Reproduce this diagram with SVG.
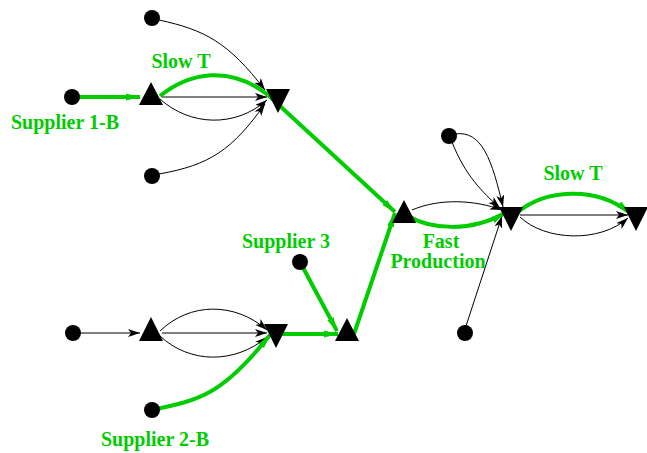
<svg xmlns="http://www.w3.org/2000/svg" width="647" height="453" viewBox="0 0 647 453">
<style>
.e{fill:none;stroke:#000;stroke-width:1}
.g{fill:none;stroke:#00cc00;stroke-width:4}
.n{fill:#000}
.t{font-family:"Liberation Serif",serif;font-weight:bold;font-size:20px;fill:#00cc00}
</style>
<defs>
<marker id="a" markerUnits="userSpaceOnUse" markerWidth="14" markerHeight="10" refX="12" refY="4" orient="auto">
<path d="M0,0 L12,4 L0,8 L3,4 z" fill="#000"/>
</marker>
<marker id="ga" markerUnits="userSpaceOnUse" markerWidth="16" markerHeight="10" refX="14" refY="4" orient="auto">
<path d="M0,0.5 L14,4 L0,7.5 z" fill="#00cc00"/>
</marker>
</defs>
<g id="connectors">
<path class="e" d="M162,97 L267,97" marker-end="url(#a)"/>
<path class="e" d="M160,99 C190,126 235,128 267,100" marker-end="url(#a)"/>
<path class="e" d="M159,20 C205,30 228,42 265,90" marker-end="url(#a)"/>
<path class="e" d="M159,174 C210,165 232,150 265,104" marker-end="url(#a)"/>
<path class="e" d="M412,210 C440,198 475,200 502,210" marker-end="url(#a)"/>
<path class="e" d="M455,134 C482,130 492,160 503,207" marker-end="url(#a)"/>
<path class="e" d="M452,142 C465,175 482,192 500,208" marker-end="url(#a)"/>
<path class="e" d="M466,326 L502,216" marker-end="url(#a)"/>
<path class="e" d="M520,215 L628,215" marker-end="url(#a)"/>
<path class="e" d="M520,217 C545,241 600,243 628,218" marker-end="url(#a)"/>
<path class="e" d="M80,333 L140,333" marker-end="url(#a)"/>
<path class="e" d="M162,333 L267,333" marker-end="url(#a)"/>
<path class="e" d="M160,331 C190,302 235,302 267,330" marker-end="url(#a)"/>
<path class="e" d="M160,336 C190,364 235,364 267,337" marker-end="url(#a)"/>
<path class="g" d="M72,97 L140,97" marker-end="url(#ga)"/>
<path class="g" d="M160,96 C190,72 230,65 268,95"/>
<path class="g" d="M268,95 L395,212" marker-end="url(#ga)"/>
<path class="g" d="M300,262 L337,331" marker-end="url(#ga)"/>
<path class="g" d="M282,334 L338,334" marker-end="url(#ga)"/>
<path class="g" d="M354,334 L395,213" marker-end="url(#ga)"/>
<path class="g" d="M408,216 C430,229 470,233 505,213" marker-end="url(#ga)"/>
<path class="g" d="M518,212 C545,190 595,185 630,213" marker-end="url(#ga)"/>
<path class="g" d="M152,410 C200,400 222,395 270,335" marker-end="url(#ga)"/>
</g>
<g id="s1a"><circle class="n" cx="152" cy="18" r="8"/></g>
<g id="s1b"><circle class="n" cx="72" cy="97" r="8"/></g>
<g id="s1c"><circle class="n" cx="152" cy="176" r="8"/></g>
<g id="t1"><polygon class="n" points="151,82 163,105 139,105"/></g>
<g id="v1"><polygon class="n" points="266,89 290,89 278,113"/></g>
<g id="t2"><polygon class="n" points="404,200 416,223 392,223"/></g>
<g id="c1"><circle class="n" cx="449" cy="136" r="8"/></g>
<g id="c2"><circle class="n" cx="465" cy="333" r="8"/></g>
<g id="v2"><polygon class="n" points="499,207 523,207 511,231"/></g>
<g id="v3"><polygon class="n" points="624,207 648,207 636,231"/></g>
<g id="d1"><circle class="n" cx="73" cy="333" r="8"/></g>
<g id="t3"><polygon class="n" points="151,317 163,341 139,341"/></g>
<g id="v4"><polygon class="n" points="264,324 288,324 276,348"/></g>
<g id="t4"><polygon class="n" points="347,318 359,341 335,341"/></g>
<g id="s3"><circle class="n" cx="300" cy="262" r="8"/></g>
<g id="s2b"><circle class="n" cx="152" cy="410" r="8"/></g>
<g id="labels">
<text class="t" x="181" y="68" text-anchor="middle">Slow T</text>
<text class="t" x="65" y="129" text-anchor="middle">Supplier 1-B</text>
<text class="t" x="573" y="180" text-anchor="middle">Slow T</text>
<text class="t" x="441" y="248" text-anchor="middle">Fast</text>
<text class="t" x="438" y="268" text-anchor="middle">Production</text>
<text class="t" x="286" y="248" text-anchor="middle">Supplier 3</text>
<text class="t" x="155" y="446" text-anchor="middle">Supplier 2-B</text>
</g>
</svg>
